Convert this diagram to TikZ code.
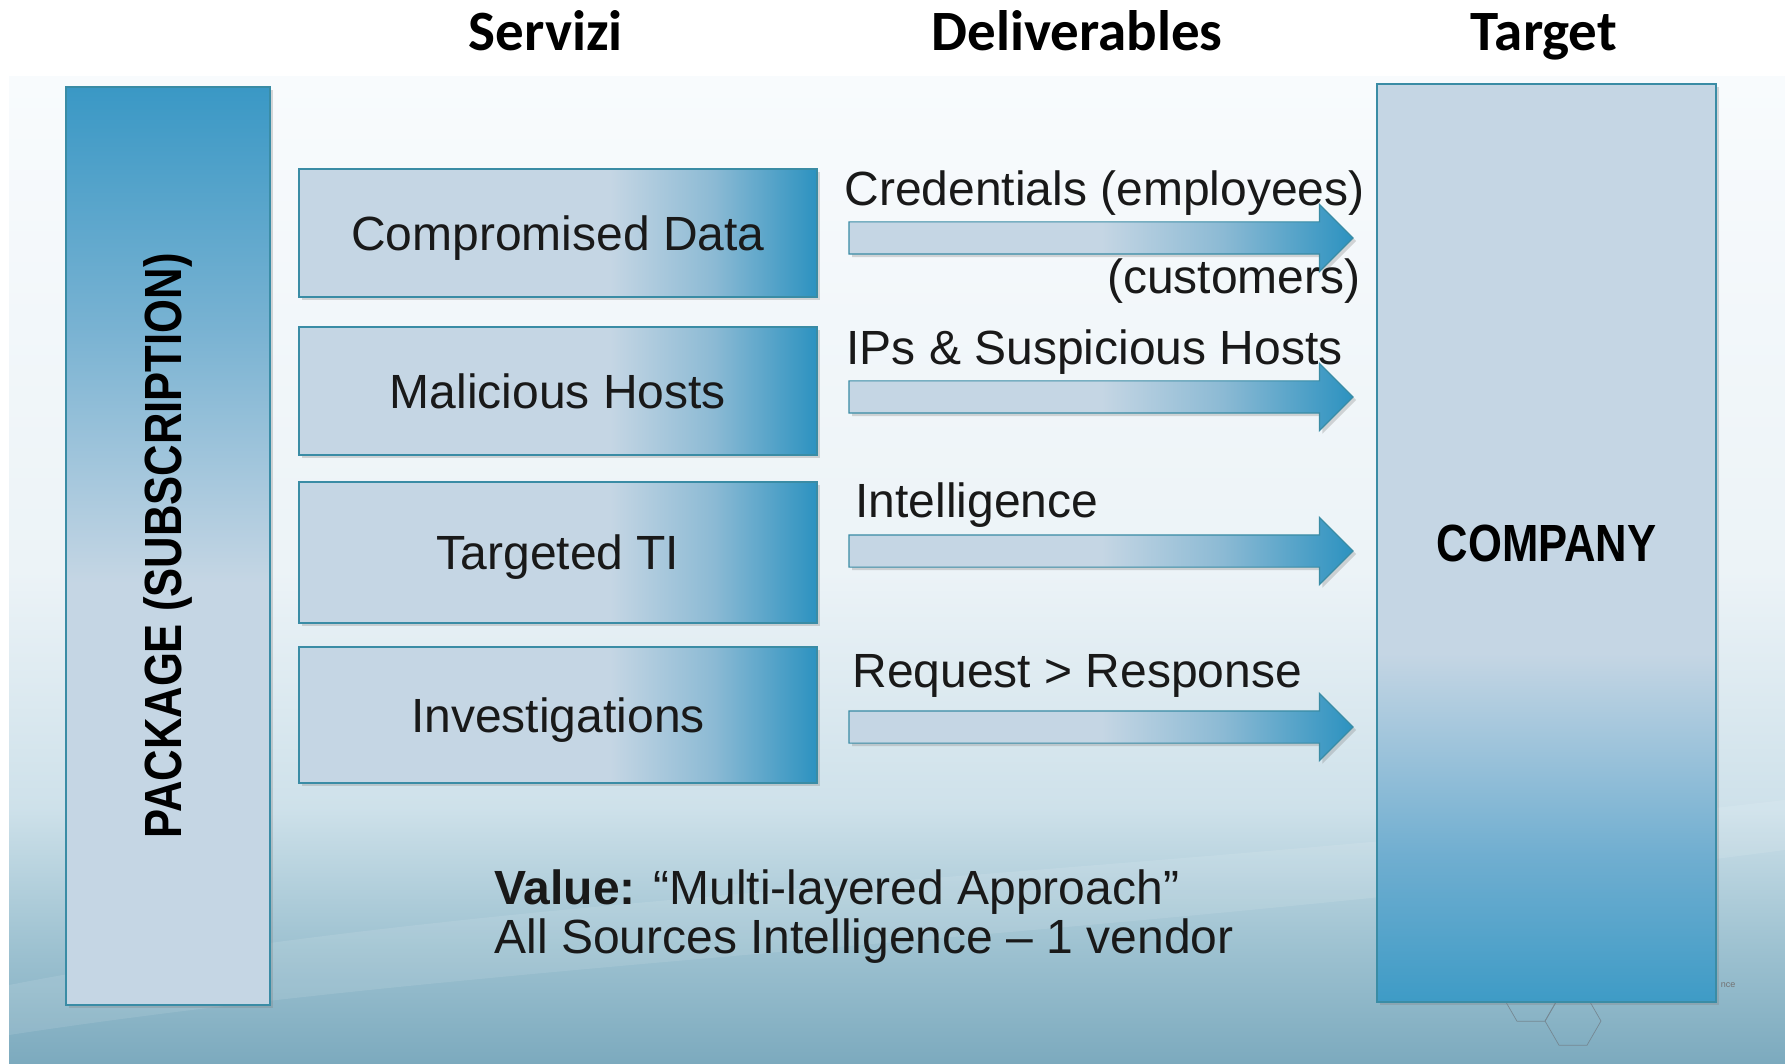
\documentclass[tikz,border=0pt]{standalone}
\usepackage{fontspec}
\usepackage{graphicx}
\setmainfont{Liberation Sans}
\newfontfamily\hdrfont{Carlito}
\usepackage{tikz}
\usetikzlibrary{shapes,arrows,positioning,calc,shadows,shapes.arrows}

\definecolor{boxlight}{RGB}{197,214,228}
\definecolor{boxmid}{RGB}{140,186,212}
\definecolor{boxblue}{RGB}{44,146,192}
\definecolor{pkgmid}{RGB}{120,178,210}
\definecolor{pkgtop}{RGB}{58,152,197}
\definecolor{cmpmid}{RGB}{112,174,208}
\definecolor{cmpbot}{RGB}{62,155,198}
\definecolor{edge}{RGB}{58,140,165}
\definecolor{txt}{RGB}{25,25,25}
\definecolor{bgtop}{RGB}{248,251,253}
\definecolor{bgmid}{RGB}{236,243,247}
\definecolor{bglow}{RGB}{206,225,234}
\definecolor{bgdeep}{RGB}{158,194,209}
\definecolor{bgbot}{RGB}{124,170,190}

\pgfdeclarehorizontalshading{srvshade}{100bp}{color(0bp)=(boxlight); color(25bp)=(boxlight); color(55bp)=(boxlight); color(65bp)=(boxmid); color(75bp)=(boxblue); color(100bp)=(boxblue)}
\pgfdeclarehorizontalshading{arrshade}{100bp}{color(0bp)=(boxlight); color(25bp)=(boxlight); color(50bp)=(boxlight); color(62bp)=(boxmid); color(75bp)=(boxblue); color(100bp)=(boxblue)}
\pgfdeclareverticalshading{pkgshade}{100bp}{color(0bp)=(boxlight); color(48bp)=(boxlight); color(62bp)=(pkgmid); color(75bp)=(pkgtop); color(100bp)=(pkgtop)}
\pgfdeclareverticalshading{cmpshade}{100bp}{color(0bp)=(cmpbot); color(25bp)=(cmpbot); color(33bp)=(cmpmid); color(44bp)=(boxlight); color(100bp)=(boxlight)}
\pgfdeclareverticalshading{bgshade}{100bp}{color(0bp)=(bgbot); color(25bp)=(bgbot); color(31bp)=(bgdeep); color(38bp)=(bglow); color(50bp)=(bgmid); color(75bp)=(bgtop); color(100bp)=(bgtop)}

\tikzset{
  boxshadow/.style={drop shadow={shadow xshift=1.5pt, shadow yshift=-1.5pt, opacity=0.3}},
  srvbox/.style={draw=edge, line width=1pt, shade, shading=srvshade, minimum width=259pt,
    minimum height=64pt, inner sep=0pt, text height=17.2pt, text depth=0pt, text=txt,
    font=\fontsize{24}{28}\selectfont, boxshadow},
  tallbox/.style={draw=edge, line width=1pt, shade, minimum width=102pt, minimum height=459pt,
    inner sep=0pt, text=black, font=\fontsize{21.8}{26}\selectfont\bfseries, boxshadow},
  delarrow/.style={single arrow, draw=edge, line width=0.6pt, shade, shading=arrshade,
    minimum height=252pt, minimum width=33pt, single arrow head extend=8.75pt,
    inner xsep=0pt, inner ysep=7.75pt, boxshadow},
  lbl/.style={anchor=base west, inner sep=0pt, text=txt, font=\fontsize{24}{28}\selectfont},
  hdr/.style={anchor=base, inner sep=0pt, font=\hdrfont\fontsize{28.5}{32}\selectfont\bfseries},
  hexline/.style={draw=black!45!cyan!40!gray, line width=0.35pt}
}

\begin{document}
\begin{tikzpicture}[x=0.5pt, y=-0.5pt]
    \useasboundingbox (0,0) rectangle (1785,1064);
    % slide backdrop
    \fill[white] (0,0) rectangle (1785,1064);
    \shade[shading=bgshade] (9,77) rectangle (1785,1064);
    \fill[white, opacity=0.1] (9,985) .. controls (500,890) and (1100,880) .. (1785,800)
        -- (1785,850) .. controls (1100,940) and (500,960) .. (9,1035) -- cycle;
    \foreach \hx/\hy in {1531/997,1573/1021}
        \draw[hexline] (\hx,\hy) +(0:28) -- +(60:28) -- +(120:28) -- +(180:28) -- +(240:28) -- +(300:28) -- cycle;
    \node[text=black!55, inner sep=0pt, font=\fontsize{4.5}{5}\selectfont] (wm) at (1728,985) {nce};

    \node[hdr] (hS) at (546,51) {Servizi};
    \node[hdr] (hD) at (1077,51) {Deliverables};
    \node[hdr] (hT) at (1544,51) {Target};

    \node[tallbox, shading=pkgshade] (pkg) at (168,546) {\rotatebox{90}{\scalebox{1}[1.2]{PACKAGE (SUBSCRIPTION)}}};
    \node[tallbox, shading=cmpshade, minimum width=169.5pt] (cmp) at (1546.5,543) {\scalebox{1}[1.2]{COMPANY}};

    \node[srvbox] (s1) at (558,233) {Compromised Data};
    \node[srvbox, below=14pt of s1] (s2) {Malicious Hosts};
    \node[srvbox, below=12.5pt of s2, minimum height=70.5pt] (s3) {Targeted TI};
    \node[srvbox, below=11pt of s3, minimum height=68pt] (s4) {Investigations};

    \node[delarrow] (a1) at (1093,238) {};
    \node[delarrow] (a2) at (1093,397) {};
    \node[delarrow] (a3) at (1093,551) {};
    \node[delarrow] (a4) at (1093,727) {};

    \node[lbl] (d1) at (844,206) {Credentials (employees)};
    \node[lbl, anchor=base east] (d1b) at (1361,294) {(customers)};
    \node[lbl] (d2) at (846,365) {IPs \& Suspicious Hosts};
    \node[lbl] (d3) at (855,517) {Intelligence};
    \node[lbl] (d4) at (852,687) {Request > Response};

    \node[lbl] (v1) at (494,904) {\textbf{Value:} ``Multi-layered Approach''};
    \node[lbl] (v2) at (494,953) {All Sources Intelligence -- 1 vendor};
\end{tikzpicture}
\end{document}
